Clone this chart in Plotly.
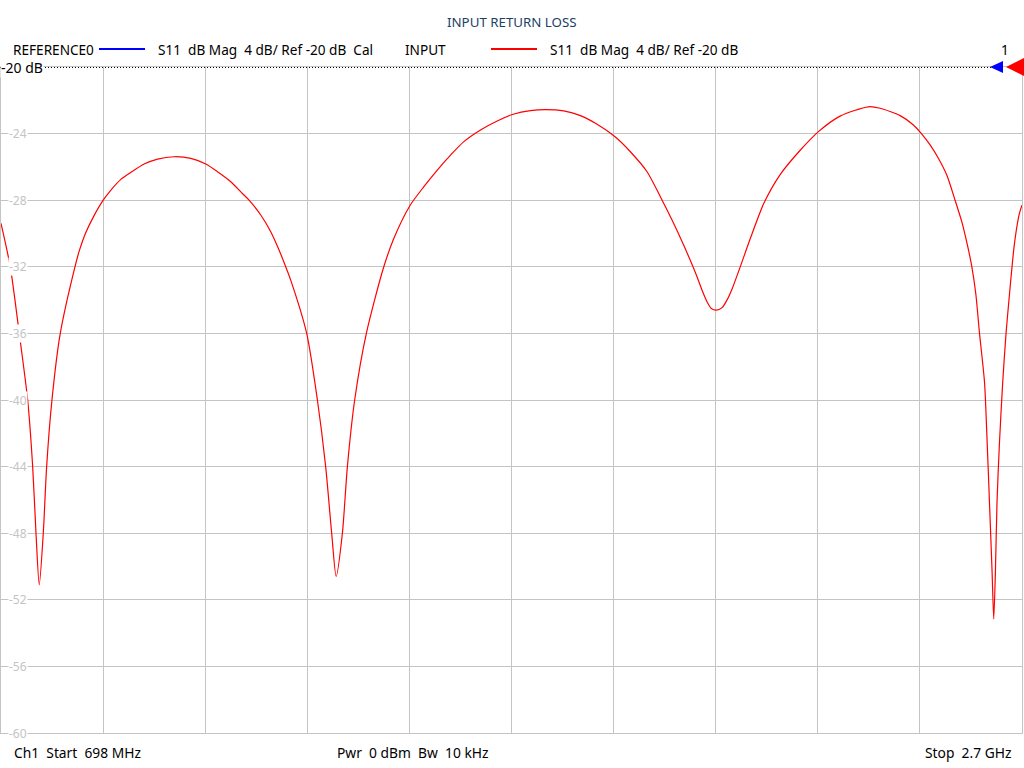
import plotly.graph_objects as go

# ---- data ----
freq_mhz = [698.0, 716.2, 733.8, 750.3, 760.1, 766.6, 773.0, 780.9, 787.5, 797.9,
            814.2, 843.0, 851.9, 863.5, 879.2, 898.4, 913.5, 933.1, 952.7, 978.7,
            1005.0, 1037.5, 1070.2, 1099.6, 1122.5, 1148.5, 1171.5, 1184.4, 1207.3, 1226.9,
            1243.2, 1256.3, 1266.1, 1297.4, 1318.4, 1334.6, 1346.4, 1355.2, 1367.4, 1377.2,
            1391.5, 1414.4, 1447.7, 1468.4, 1500.6, 1527.2, 1553.5, 1579.5, 1605.6, 1638.3,
            1671.0, 1702.3, 1736.2, 1765.6, 1801.4, 1834.2, 1866.9, 1902.1, 1932.1, 1964.8,
            1990.9, 2013.8, 2036.5, 2056.1, 2062.8, 2072.6, 2082.4, 2090.8, 2100.6, 2111.8,
            2121.5, 2131.9, 2148.0,
            2167.6, 2193.6, 2226.1, 2265.1, 2300.9, 2343.3, 2398.5, 2421.8, 2461.0, 2487.1,
            2502.8, 2519.8, 2536.0, 2552.5, 2568.8, 2581.9, 2592.9, 2601.5, 2609.3,
            2616.7, 2626.5, 2631.0, 2636.2, 2641.3, 2644.6,
            2647.9, 2651.0, 2655.7, 2662.2, 2668.7, 2675.1, 2684.9, 2694.7, 2700.0]
s11_db = [-29.39, -32.0, -36.0, -40.0, -44.0, -48.0, -51.1, -48.0, -44.0, -40.0,
          -36.0, -32.0, -31.0, -30.0, -29.0, -28.0, -27.39, -26.75, -26.33, -25.83,
          -25.53, -25.39, -25.49, -25.83, -26.29, -26.89, -27.6, -28.0, -28.89, -29.89,
          -30.99, -32.0, -32.8, -36.0, -40.0, -44.0, -48.0, -50.6, -48.0, -44.0,
          -40.0, -36.0, -32.09, -30.29, -28.29, -27.19, -26.19, -25.29, -24.48, -23.78,
          -23.24, -22.84, -22.62, -22.56, -22.64, -22.92, -23.44, -24.19, -25.09, -26.29,
          -27.79, -29.19, -30.69, -32.09, -32.6, -33.4, -34.1, -34.5, -34.6, -34.45,
          -34.0, -33.3, -31.96,
          -30.27, -28.2, -26.45, -25.0, -23.88, -22.95, -22.39, -22.48, -22.92, -23.48,
          -24.0, -24.68, -25.48, -26.49, -28.0, -29.29, -30.69, -31.97, -33.59,
          -36.0, -38.93, -42.0, -46.14, -50.27, -53.15,
          -50.27, -46.14, -42.64, -38.93, -36.0, -33.77, -30.68, -28.82, -28.3]

start_mhz = 698.0
stop_mhz = 2700.0
x_divisions = 10
y_ticks = [-20, -24, -28, -32, -36, -40, -44, -48, -52, -56, -60]
y_tick_labels = ["-20", "-24", "-28", "-32", "-36", "-40", "-44", "-48", "-52", "-56", "-60"]

title_text = "INPUT RETURN LOSS"
legend_ref_name = "REFERENCE0"
legend_ref_desc = "S11  dB Mag  4 dB/ Ref -20 dB  Cal"
legend_in_name = "INPUT"
legend_in_desc = "S11  dB Mag  4 dB/ Ref -20 dB"
footer_left = "Ch1  Start  698 MHz"
footer_mid = "Pwr  0 dBm  Bw  10 kHz"
footer_right = "Stop  2.7 GHz"
ref_label = "-20 dB"

def nb(s):
    return s.replace(" ", "\u00a0")

FONT = "Noto Sans"
LEG_SIZE = 13.6
FOOT_SIZE = 13.8
W, H = 1024, 768
ML, MR, MT, MB = 1, 2, 67, 35
PW = W - ML - MR
PH = H - MT - MB

def px_x(px):
    return (px - ML) / PW

def px_y(py):
    return (H - MB - py) / PH

x_grid = [start_mhz + (stop_mhz - start_mhz) * i / x_divisions for i in range(x_divisions + 1)]

fig = go.Figure()
fig.add_trace(go.Scatter(x=freq_mhz, y=s11_db, mode="lines",
                         line=dict(color="#ff0000", width=1.2, shape="spline", smoothing=0.7),
                         showlegend=False, hoverinfo="skip"))

fig.update_layout(
    width=W, height=H,
    margin=dict(l=ML, r=MR, t=MT, b=MB, pad=0),
    paper_bgcolor="white", plot_bgcolor="white",
    showlegend=False,
    xaxis=dict(range=[start_mhz, stop_mhz], tickvals=x_grid, showticklabels=False,
               showgrid=True, gridcolor="#c4c4c4", gridwidth=1, zeroline=False,
               showline=True, linecolor="#c4c4c4", linewidth=1, mirror=True, ticks=""),
    yaxis=dict(range=[-60, -20], tickvals=y_ticks, showticklabels=False,
               showgrid=True, gridcolor="#c4c4c4", gridwidth=1, zeroline=False,
               showline=True, linecolor="#c4c4c4", linewidth=1, mirror=True, ticks=""),
)

ann = []
# y tick labels (inside, light gray, white background)
for v, t in zip(y_ticks, y_tick_labels):
    ann.append(dict(x=px_x(18), y=v, xref="paper", yref="y", text=t, showarrow=False,
                    font=dict(family=FONT, size=12, color="#c4c4c4"), bgcolor="white",
                    xanchor="center", yanchor="middle", borderpad=0))

# title
ann.append(dict(x=px_x(512), y=px_y(22), xref="paper", yref="paper", text=title_text,
                showarrow=False, font=dict(family=FONT, size=13.3, color="#1c3f66"),
                xanchor="center", yanchor="middle"))
# legend texts
row_y = px_y(49)
for xpx, txt in [(12, legend_ref_name), (157, legend_ref_desc), (404, legend_in_name), (549, legend_in_desc)]:
    ann.append(dict(x=px_x(xpx), y=row_y, xref="paper", yref="paper", text=nb(txt),
                    showarrow=False, font=dict(family=FONT, size=LEG_SIZE, color="#000000"),
                    xanchor="left", yanchor="middle", borderpad=0))
ann.append(dict(x=px_x(1005), y=row_y, xref="paper", yref="paper", text="1",
                showarrow=False, font=dict(family=FONT, size=LEG_SIZE, color="#000000"),
                xanchor="center", yanchor="middle"))
# reference level label
ann.append(dict(x=px_x(0), y=-20, xref="paper", yref="y", text=nb(ref_label),
                showarrow=False, font=dict(family=FONT, size=14, color="#000000"),
                bgcolor="white", xanchor="left", yanchor="middle", borderpad=0))
# footer
foot_y = px_y(752)
ann.append(dict(x=px_x(12), y=foot_y, xref="paper", yref="paper", text=nb(footer_left),
                showarrow=False, font=dict(family=FONT, size=FOOT_SIZE, color="#000000"),
                xanchor="left", yanchor="middle"))
ann.append(dict(x=px_x(335), y=foot_y, xref="paper", yref="paper", text=nb(footer_mid),
                showarrow=False, font=dict(family=FONT, size=FOOT_SIZE, color="#000000"),
                xanchor="left", yanchor="middle"))
ann.append(dict(x=px_x(1013), y=foot_y, xref="paper", yref="paper", text=nb(footer_right),
                showarrow=False, font=dict(family=FONT, size=FOOT_SIZE, color="#000000"),
                xanchor="right", yanchor="middle"))

shapes = []
# legend swatches
shapes.append(dict(type="line", xref="paper", yref="paper", x0=px_x(99), x1=px_x(145),
                   y0=row_y, y1=row_y, line=dict(color="#0000ff", width=2)))
shapes.append(dict(type="line", xref="paper", yref="paper", x0=px_x(491), x1=px_x(537),
                   y0=row_y, y1=row_y, line=dict(color="#ff0000", width=2)))
# reference dotted line (at the -20 dB reference level, pixel-aligned)
ref_y = px_y(67.5)
shapes.append(dict(type="line", xref="paper", yref="paper", x0=px_x(0), x1=px_x(992),
                   y0=ref_y, y1=ref_y, line=dict(color="#000000", width=1, dash="1px,2px"),
                   layer="above"))
# reference markers (triangles pointing left)
ry = px_y(67)
def tri(xl, xr, half):
    return (f"M {px_x(xl)} {ry} L {px_x(xr)} {ry + half / PH} "
            f"L {px_x(xr)} {ry - half / PH} Z")
shapes.append(dict(type="path", xref="paper", yref="paper", path=tri(990, 1003, 6),
                   fillcolor="#0000ff", line=dict(width=0), layer="above"))
shapes.append(dict(type="path", xref="paper", yref="paper", path=tri(1006, 1024, 9),
                   fillcolor="#ff0000", line=dict(width=0), layer="above"))

fig.update_layout(annotations=ann, shapes=shapes)
fig.write_html("out.html", config={"displayModeBar": False},
               post_script="document.body.style.margin='0';document.body.style.overflow='hidden';")
